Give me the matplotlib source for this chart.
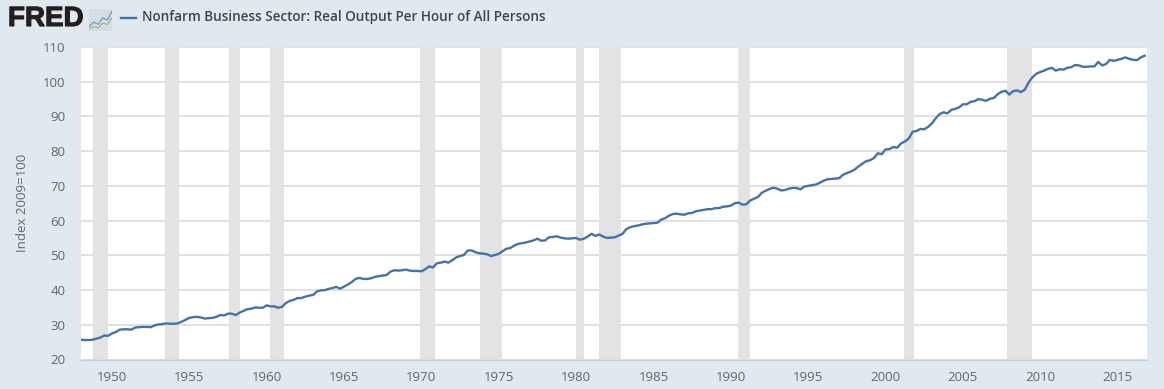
import numpy as np
import matplotlib
matplotlib.use("Agg")
import matplotlib.pyplot as plt
import matplotlib.patheffects as pe

plt.rcParams['font.family'] = ['Open Sans', 'DejaVu Sans']

# quarterly index values, 1948 Q1 on
output_per_hour = [
    25.7, 25.6, 25.6, 25.7, 26.0, 26.3, 26.9, 26.8, 27.5, 27.9, 28.6, 28.7,
    28.7, 28.6, 29.2, 29.3, 29.4, 29.4, 29.3, 29.8, 30.1, 30.2, 30.4, 30.3,
    30.3, 30.4, 30.9, 31.4, 32.0, 32.2, 32.3, 32.1, 31.8, 31.9, 32.0, 32.3,
    32.8, 32.7, 33.2, 33.2, 32.8, 33.5, 34.0, 34.5, 34.6, 35.0, 34.9, 34.9,
    35.6, 35.3, 35.3, 34.9, 35.2, 36.3, 36.9, 37.2, 37.7, 37.7, 38.1, 38.4,
    38.6, 39.6, 39.9, 40.0, 40.3, 40.6, 40.9, 40.4, 41.0, 41.6, 42.3, 43.2,
    43.5, 43.2, 43.2, 43.4, 43.8, 44.0, 44.2, 44.3, 45.3, 45.7, 45.6, 45.7,
    45.9, 45.6, 45.5, 45.5, 45.4, 46.0, 46.8, 46.5, 47.7, 47.9, 48.2, 47.9,
    48.6, 49.4, 49.8, 50.1, 51.4, 51.4, 50.9, 50.6, 50.5, 50.3, 49.8, 50.1,
    50.4, 51.2, 51.9, 52.1, 52.8, 53.3, 53.5, 53.7, 54.0, 54.3, 54.8, 54.2,
    54.3, 55.2, 55.3, 55.5, 55.1, 54.9, 54.8, 54.9, 55.0, 54.5, 54.8, 55.4,
    56.2, 55.6, 56.0, 55.4, 55.0, 55.1, 55.2, 55.7, 56.2, 57.6, 58.1, 58.4,
    58.6, 58.9, 59.1, 59.2, 59.3, 59.4, 60.3, 60.7, 61.4, 61.9, 62.0, 61.8,
    61.7, 62.1, 62.2, 62.7, 62.9, 63.1, 63.3, 63.3, 63.6, 63.6, 64.0, 64.1,
    64.3, 65.0, 65.2, 64.6, 64.7, 65.8, 66.3, 66.8, 68.0, 68.6, 69.1, 69.5,
    69.2, 68.7, 68.8, 69.2, 69.4, 69.4, 69.0, 69.8, 70.0, 70.2, 70.4, 70.9,
    71.5, 71.9, 72.0, 72.1, 72.2, 73.2, 73.7, 74.1, 74.7, 75.6, 76.4, 77.1,
    77.4, 78.0, 79.4, 79.1, 80.5, 80.6, 81.2, 81.0, 82.2, 82.8, 83.6, 85.6,
    85.8, 86.4, 86.3, 87.0, 88.0, 89.5, 90.7, 91.2, 90.9, 91.9, 92.2, 92.6,
    93.5, 93.5, 94.2, 94.4, 95.0, 94.8, 94.5, 95.1, 95.3, 96.4, 97.1, 97.4,
    96.3, 97.3, 97.5, 97.0, 97.7, 99.8, 101.3, 102.3, 102.8, 103.2, 103.7, 104.0,
    103.2, 103.6, 103.5, 104.0, 104.2, 104.8, 104.7, 104.3, 104.3, 104.4, 104.4, 105.7,
    104.7, 105.1, 106.3, 106.0, 106.3, 106.6, 107.0, 106.6, 106.3, 106.2, 107.0, 107.5,
]
# NBER recessions as decimal years (start, end)
recession_start = [1948.79, 1953.46, 1957.54, 1960.21, 1969.88, 1973.79, 1979.98, 1981.46, 1990.46, 2001.2, 2007.88]
recession_end = [1949.75, 1954.33, 1958.27, 1961.11, 1970.88, 1975.19, 1980.5, 1982.88, 1991.22, 2001.83, 2009.46]
x_ticks = list(range(1950, 2016, 5))
y_ticks = list(range(20, 111, 10))

title = "Nonfarm Business Sector: Real Output Per Hour of All Persons"
bg = '#e1e9f0'
blue = '#4572a7'

W, H = 1164, 389
years = 1948 + np.arange(len(output_per_hour)) / 4

fig = plt.figure(figsize=(W / 100, H / 100), dpi=100, facecolor=bg)
ax = fig.add_axes([81 / W, 1 - 359.5 / H, 1066 / W, 312.5 / H])
ax.set_facecolor('white')

for s, e in zip(recession_start, recession_end):
    ax.axvspan(s, e, color='#e3e3e3', lw=0, zorder=1)
ax.grid(axis='y', color='#d8d8d8', lw=1.1, zorder=2)
ax.set_axisbelow(True)
ax.plot(years, output_per_hour, color=blue, lw=1.7, zorder=3)

ax.set_xlim(1948, 2016.9)
ax.set_ylim(20, 110)
ax.set_xticks(x_ticks)
ax.set_yticks(y_ticks)
ax.tick_params(axis='both', length=0, labelsize=9.5, labelcolor='#666666')
ax.tick_params(axis='x', pad=8)
ax.tick_params(axis='y', pad=11)
for side in ['top', 'left', 'right']:
    ax.spines[side].set_visible(False)
ax.spines['bottom'].set_color('#c0d0e0')
ax.spines['bottom'].set_linewidth(1)
ax.set_ylabel("Index 2009=100", fontsize=9.5, color='#666666')
ax.yaxis.set_label_coords((29 - 81) / 1066, 0.5)

# header: logo, icon, legend key and series name
logo = fig.text(8 / W, 1 - 19 / H, "FRED", fontsize=20, fontweight='bold', color='#231f20',
                family=['Liberation Sans', 'DejaVu Sans'], va='center', ha='left')
logo.set_path_effects([pe.withStroke(linewidth=0.8, foreground='#231f20')])
icon = fig.add_axes([89 / W, 1 - 31 / H, 23 / W, 22 / H], facecolor='#d5dde3')
icon.plot([0, 2, 4, 6, 8, 10], [2, 4, 3, 6, 5, 9], color='#5b87b5', lw=0.7)
icon.plot([0, 2, 4, 6, 8, 10], [1, 2, 1.5, 3.5, 3, 6], color='#8cb36b', lw=0.7)
icon.set_xlim(0, 10)
icon.set_ylim(0, 10)
icon.set_xticks([])
icon.set_yticks([])
for side in icon.spines.values():
    side.set_visible(False)
fig.add_artist(plt.Line2D([121 / W, 136 / W], [1 - 18 / H, 1 - 18 / H], color=blue, lw=1.7))
fig.text(142 / W, 1 - 17 / H, title, fontsize=9.72, fontweight='semibold', color='#444444',
         va='center', ha='left')

fig.savefig('out.png', dpi=100, facecolor=bg)
